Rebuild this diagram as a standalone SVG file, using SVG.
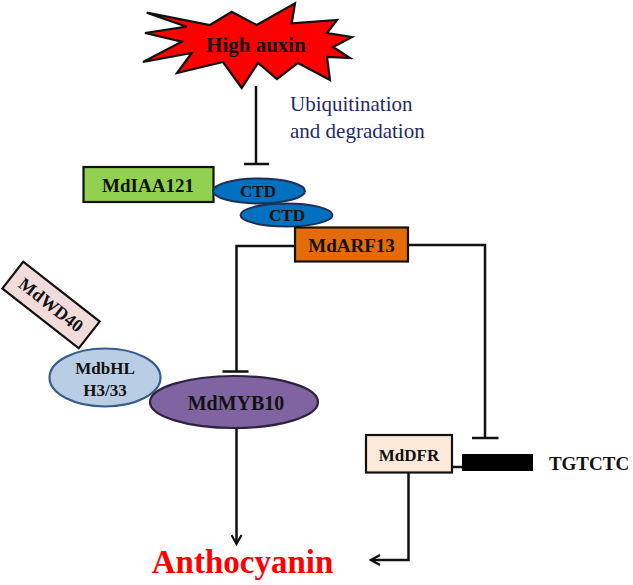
<svg xmlns="http://www.w3.org/2000/svg" width="633" height="585" viewBox="0 0 633 585">
<defs>
<style>
.t{font-family:"Liberation Serif","Times New Roman",serif;font-weight:bold;fill:#111;text-anchor:middle}
.c{fill:none;stroke:#111;stroke-width:2.5}
.box{stroke:#111;stroke-width:2.2}
</style>
<marker id="arr" viewBox="0 0 12 12" refX="10" refY="6" markerWidth="12" markerHeight="12" markerUnits="userSpaceOnUse" orient="auto">
<path d="M1,1 L10,6 L1,11" fill="none" stroke="#111" stroke-width="2.2"/>
</marker>
</defs>
<rect width="633" height="585" fill="#fff"/>

<g id="connectors">
<path class="c" d="M256,86 V164 M244,164 H269"/>
<path class="c" d="M295,246 H236.5 V371.5 M222.5,371.5 H248.5"/>
<path class="c" d="M408,245 H485 V438 M472,438 H498.5"/>
<path class="c" d="M236.5,428 V544" marker-end="url(#arr)"/>
<path class="c" d="M408.5,472 V560 H371" marker-end="url(#arr)"/>
<path class="c" d="M452,467 H462"/>
</g>

<g id="high-auxin">
<polygon points="146.7,12.7 210,25 231.7,11.7 256.7,25 295,3.3 291.7,23.3 337,20 327,33 352,37 333,47 350,58 327,57 330,80 298,63 277,79 258,63 241.7,88 223,62 177,73 191.7,53 143,62 181.7,41.7 145,33 186.7,26.7" fill="#ff0000" stroke="#111" stroke-width="2.2" stroke-linejoin="miter"/>
<text class="t" x="256" y="52" font-size="21" fill="#220000">High auxin</text>
</g>

<g id="ubiquitination">
<text x="290" y="111" font-family="Liberation Serif, Times New Roman, serif" font-size="21" fill="#1f2a6b">Ubiquitination</text>
<text x="290" y="138" font-family="Liberation Serif, Times New Roman, serif" font-size="21" fill="#1f2a6b">and degradation</text>
</g>

<g id="MdIAA121">
<rect class="box" x="83.5" y="167" width="130" height="35" fill="#92d050"/>
<text class="t" x="148" y="191.5" font-size="19">MdIAA121</text>
</g>

<g id="CTD1">
<ellipse cx="259" cy="191" rx="46" ry="12.5" fill="#0070c0" stroke="#1f3050" stroke-width="2"/>
<text class="t" x="258" y="197" font-size="17">CTD</text>
</g>

<g id="CTD2">
<ellipse cx="286.5" cy="215" rx="46" ry="11.5" fill="#0070c0" stroke="#1f3050" stroke-width="2"/>
<text class="t" x="287" y="221" font-size="17">CTD</text>
</g>

<g id="MdARF13">
<rect class="box" x="295" y="227.5" width="113" height="34" fill="#e36c09"/>
<text class="t" x="351.5" y="251.5" font-size="19">MdARF13</text>
</g>

<g id="MdWD40">
<g transform="translate(51,305) rotate(38)">
<rect class="box" x="-48.5" y="-17" width="97" height="34" fill="#f2dcdb"/>
<text class="t" x="0" y="6" font-size="18">MdWD40</text>
</g>
</g>

<g id="MdbHLH3-33">
<ellipse cx="105" cy="377.5" rx="55.5" ry="29" fill="#b9cde5" stroke="#385d8a" stroke-width="2.2"/>
<text class="t" x="105" y="374" font-size="17">MdbHL</text>
<text class="t" x="105" y="396" font-size="17">H3/33</text>
</g>

<g id="MdMYB10">
<ellipse cx="234" cy="402" rx="84" ry="26" fill="#8064a2" stroke="#2e2240" stroke-width="2.2"/>
<text class="t" x="236" y="410" font-size="20">MdMYB10</text>
</g>

<g id="MdDFR">
<rect class="box" x="366" y="435" width="86" height="37.5" fill="#fde9d9"/>
<text class="t" x="409" y="461" font-size="17">MdDFR</text>
</g>

<g id="promoter">
<rect x="462" y="454" width="71" height="17" fill="#000"/>
<text class="t" x="589" y="470" font-size="19">TGTCTC</text>
</g>

<g id="Anthocyanin">
<text class="t" x="242.5" y="573" font-size="33" style="fill:#ff0000">Anthocyanin</text>
</g>
</svg>
